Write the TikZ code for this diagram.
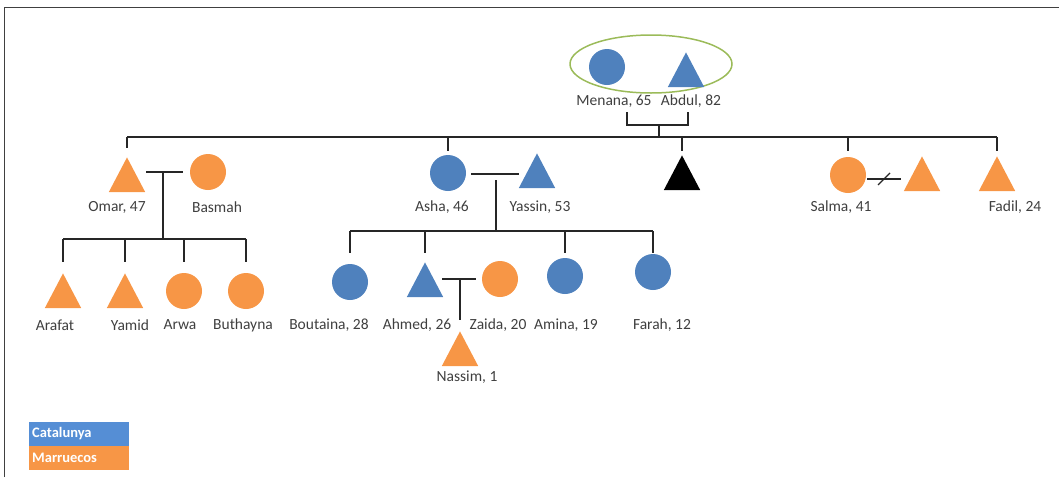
\documentclass[tikz,border=0pt]{standalone}
\usepackage{fontspec}
\setmainfont{Carlito}
\usetikzlibrary{shapes.geometric, calc}
\definecolor{CatBlue}{HTML}{4F81BD}
\definecolor{MarOrange}{HTML}{F79646}
\definecolor{LegBlue}{HTML}{558ED5}
\definecolor{OvalGreen}{HTML}{9BBB59}
\definecolor{TxtGray}{HTML}{3F3F3F}

\tikzset{
    fem/.style={circle, minimum size=36pt, inner sep=0pt},
    male/.style={regular polygon, regular polygon sides=3, minimum size=42pt, inner sep=0pt,
        yscale=1.1, transform shape},
    lbl/.style={text=TxtGray, font=\fontsize{15.5}{17}\selectfont, inner sep=0pt},
    tie/.style={line width=1.3pt, black!85},
    legbox/.style={anchor=north west, minimum width=100pt, minimum height=23.5pt, inner sep=3pt,
        text width=94pt, align=left, text=white, font=\bfseries\fontsize{14.5}{16}\selectfont},
}

\begin{document}
\begin{tikzpicture}[x=1pt, y=-1pt]
    \useasboundingbox (0,0) rectangle (1059,477);

    % Frame
    \coordinate (frameBL) at (4,477);
    \coordinate (frameTL) at (4,7);
    \coordinate (frameTR) at (1059,7);
    \draw[black!75, line width=1pt] (frameBL) -- (frameTL) -- (frameTR);

    % Grandparents
    \node[draw=OvalGreen, ellipse, line width=1.5pt, minimum width=162pt, minimum height=58pt] (oval) at (651,64) {};
    \node[fem, fill=CatBlue] (menana) at (607,67) {};
    \node[male, fill=CatBlue] (abdul) at (686,75.5) {};
    \node[lbl] (menanaLbl) at (614,101) {Menana, 65};
    \node[lbl] (abdulLbl) at (691,101) {Abdul, 82};

    % Children of Menana and Abdul
    \node[male, fill=MarOrange] (omar) at (127,180.5) {};
    \node[fem, fill=MarOrange] (basmah) at (208,172) {};
    \node[fem, fill=CatBlue] (asha) at (448,173) {};
    \node[male, fill=CatBlue] (yassin) at (537,176.5) {};
    \node[male, fill=black] (unknown) at (682,178.5) {};
    \node[fem, fill=MarOrange] (salma) at (848,175) {};
    \node[male, fill=MarOrange] (salmaEx) at (922,179.5) {};
    \node[male, fill=MarOrange] (fadil) at (997,179.5) {};
    \node[lbl] (omarLbl) at (117,207) {Omar, 47};
    \node[lbl] (basmahLbl) at (217,207) {Basmah};
    \node[lbl] (ashaLbl) at (442,207) {Asha, 46};
    \node[lbl] (yassinLbl) at (540,207) {Yassin, 53};
    \node[lbl] (salmaLbl) at (841,207) {Salma, 41};
    \node[lbl] (fadilLbl) at (1015,207) {Fadil, 24};

    % Children of Omar and Basmah
    \node[male, fill=MarOrange] (arafat) at (63,296.5) {};
    \node[male, fill=MarOrange] (yamid) at (125,296.5) {};
    \node[fem, fill=MarOrange] (arwa) at (184,291) {};
    \node[fem, fill=MarOrange] (buthayna) at (246,291) {};
    \node[lbl] (arafatLbl) at (55,325) {Arafat};
    \node[lbl] (yamidLbl) at (130,325) {Yamid};
    \node[lbl] (arwaLbl) at (180,325) {Arwa};
    \node[lbl] (buthaynaLbl) at (243,325) {Buthayna};

    % Children of Asha and Yassin
    \node[fem, fill=CatBlue] (boutaina) at (350,282) {};
    \node[male, fill=CatBlue] (ahmed) at (425,285.5) {};
    \node[fem, fill=MarOrange] (zaida) at (500,279) {};
    \node[fem, fill=CatBlue] (amina) at (565,276) {};
    \node[fem, fill=CatBlue] (farah) at (653,272) {};
    \node[lbl] (boutainaLbl) at (329,325) {Boutaina, 28};
    \node[lbl] (ahmedLbl) at (417,325) {Ahmed, 26};
    \node[lbl] (zaidaLbl) at (498,325) {Zaida, 20};
    \node[lbl] (aminaLbl) at (566,325) {Amina, 19};
    \node[lbl] (farahLbl) at (662,325) {Farah, 12};

    % Grandchild
    \node[male, fill=MarOrange] (nassim) at (460,354.5) {};
    \node[lbl] (nassimLbl) at (467,377) {Nassim, 1};

    % Couple ties
    \coordinate (parTie) at (659,125);
    \coordinate (omarTie) at (163,172);
    \coordinate (ashaTie) at (496,174);
    \coordinate (ahmedTie) at (460,279);
    \coordinate (salmaTie) at (884,179);
    \draw[tie] (parTie) -| ++(-32,-13);
    \draw[tie] (parTie) -| ++(29,-13);
    \draw[tie] ($(omarTie)+(-17,0)$) -- ($(omarTie)+(20,0)$);
    \draw[tie] ($(ashaTie)+(-25,0)$) -- ($(ashaTie)+(23,0)$);
    \draw[tie] ($(ahmedTie)+(-18,0)$) -- ($(ahmedTie)+(16,0)$);
    \draw[tie] ($(salmaTie)+(-17,0)$) -- ($(salmaTie)+(17,0)$);
    \draw[tie] ($(salmaTie)+(-6,6)$) -- ($(salmaTie)+(6,-6)$);

    % Sibling lines
    \coordinate (sibLine) at (659,137);
    \coordinate (omarKids) at (163,239);
    \coordinate (ashaKids) at (496,231);
    \draw[tie] (parTie) -- (sibLine);
    \draw[tie] (omar |- sibLine) -- (fadil |- sibLine);
    \draw[tie] (omar |- sibLine) -- ++(0,11);
    \foreach \kid in {asha, unknown, salma, fadil}
        \draw[tie] (\kid |- sibLine) -- ++(0,14);

    \draw[tie] (omarTie) -- (omarKids);
    \draw[tie] (arafat |- omarKids) -- (buthayna |- omarKids);
    \foreach \kid in {arafat, yamid, arwa, buthayna}
        \draw[tie] (\kid |- omarKids) -- ++(0,23);

    \draw[tie] ($(ashaTie)+(0,6)$) -- (ashaKids);
    \draw[tie] (boutaina |- ashaKids) -- (farah |- ashaKids);
    \foreach \kid in {boutaina, ahmed, amina, farah}
        \draw[tie] (\kid |- ashaKids) -- ++(0,22);

    \draw[tie] (ahmedTie) -- ++(0,41);

    % Legend
    \node[legbox, fill=LegBlue] (legCat) at (29,422) {Catalunya};
    \node[legbox, fill=MarOrange] (legMar) at (legCat.south west) {Marruecos};
\end{tikzpicture}
\end{document}
